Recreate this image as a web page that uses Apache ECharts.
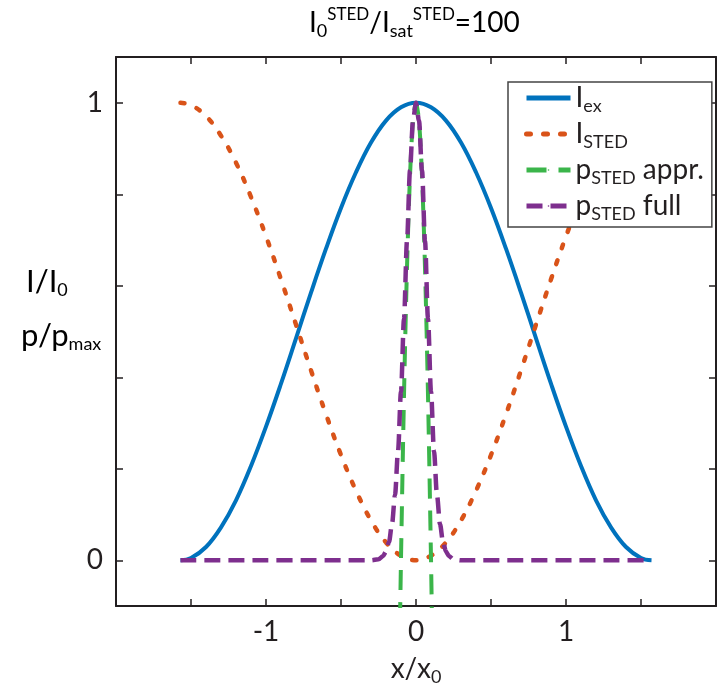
<!DOCTYPE html>
<html><head><meta charset="utf-8">
<script src="https://cdn.jsdelivr.net/npm/echarts@6/dist/echarts.min.js"></script>
<style>html,body{margin:0;padding:0;background:#fff}#c{width:721px;height:695px}</style>
</head><body><div id="c"></div>
<script>
// ---- data ----
const xWide = [-1.57,-1.5,-1.4,-1.3,-1.2,-1.1,-1.0,-0.9,-0.8,-0.7,-0.6,-0.5,-0.4,-0.3,-0.2,-0.1,0,0.1,0.2,0.3,0.4,0.5,0.6,0.7,0.8,0.9,1.0,1.1,1.2,1.3,1.4,1.5,1.57];
const iEx   = [0.000,0.005,0.029,0.072,0.131,0.206,0.292,0.386,0.485,0.585,0.681,0.770,0.848,0.913,0.961,0.990,1.000,0.990,0.961,0.913,0.848,0.770,0.681,0.585,0.485,0.386,0.292,0.206,0.131,0.072,0.029,0.005,0.000];
const iSted = [1.000,0.995,0.971,0.928,0.869,0.794,0.708,0.614,0.515,0.415,0.319,0.230,0.152,0.087,0.039,0.010,0.000,0.010,0.039,0.087,0.152,0.230,0.319,0.415,0.515,0.614,0.708,0.794,0.869,0.928,0.971,0.995,1.000];
const xFull = [-1.57,-0.3,-0.25,-0.22,-0.2,-0.18,-0.16,-0.14,-0.12,-0.1,-0.08,-0.06,-0.04,-0.02,0,0.02,0.04,0.06,0.08,0.1,0.12,0.14,0.16,0.18,0.2,0.22,0.25,0.3,1.57];
const pFull = [0,0.000,0.002,0.009,0.019,0.040,0.079,0.142,0.238,0.369,0.528,0.698,0.852,0.961,1.000,0.961,0.852,0.698,0.528,0.369,0.238,0.142,0.079,0.040,0.019,0.009,0.002,0.000,0];
const xAppr = [-0.11,-0.1,-0.08,-0.06,-0.04,-0.02,0,0.02,0.04,0.06,0.08,0.1,0.11];
const pAppr = [-0.205,0.003,0.361,0.640,0.840,0.960,1.000,0.960,0.840,0.640,0.361,0.003,-0.205];
const xLabelVals = [-1,0,1];
const yTickVals = [0,0.2,0.4,0.6,0.8,1];
const yLabelVals = [0,1];
const seriesNames = ['I_ex','I_STED','p_STED appr.','p_STED full'];

const FONT = 'Lato';
const TXT = '#231f20';
const rich = {
  m: {fontFamily: FONT, fontSize: 28, lineHeight: 34, color: TXT},
  y: {fontFamily: FONT, fontSize: 31, lineHeight: 36, color: TXT},
  b: {fontFamily: FONT, fontSize: 18, lineHeight: 10, verticalAlign: 'bottom', color: TXT},
  t: {fontFamily: FONT, fontSize: 17, lineHeight: 16, verticalAlign: 'top', color: TXT}
};
const legendText = {
  'I_ex': '{m|I}{b|ex}',
  'I_STED': '{m|I}{b|STED}',
  'p_STED appr.': '{m|p}{b|STED}{m| appr.}',
  'p_STED full': '{m|p}{b|STED}{m| full}'
};
const pairs = (xs, ys) => xs.map((x, i) => [x, ys[i]]);

const axisLine = {show: true, onZero: false, lineStyle: {color: TXT, width: 2}};
const tickStyle = {lineStyle: {color: TXT, width: 1.5}};

const chart = echarts.init(document.getElementById('c'), null, {renderer: 'canvas'});
chart.setOption({
  animation: false,
  backgroundColor: '#fff',
  grid: {left: 116, right: 5, top: 57, bottom: 89, containLabel: false},
  xAxis: [{
    type: 'value', min: -2, max: 2, interval: 0.5, position: 'bottom',
    axisLine, splitLine: {show: false},
    axisTick: {show: true, inside: true, length: 7, ...tickStyle},
    axisLabel: {show: true, interval: 0, margin: 12, fontFamily: FONT, fontSize: 28, color: TXT,
      formatter: v => xLabelVals.some(t => Math.abs(t - v) < 1e-9) ? String(Math.round(v)) : ''},
    name: '{m|x/x}{b|0}', nameLocation: 'middle', nameGap: 46,
    nameTextStyle: {rich}
  }, {
    type: 'value', min: -2, max: 2, interval: 0.5, position: 'top',
    axisLine, splitLine: {show: false},
    axisTick: {show: true, inside: true, length: 7, ...tickStyle},
    axisLabel: {show: false}
  }],
  yAxis: [{
    type: 'value', min: -0.1, max: 1.1, position: 'left',
    axisLine, splitLine: {show: false},
    axisTick: {show: true, inside: true, length: 7, customValues: yTickVals, ...tickStyle},
    axisLabel: {show: true, margin: 13, fontFamily: FONT, fontSize: 28, color: TXT, customValues: yLabelVals,
      formatter: v => String(Math.round(v))}
  }, {
    type: 'value', min: -0.1, max: 1.1, position: 'right',
    axisLine, splitLine: {show: false},
    axisTick: {show: true, inside: true, length: 7, customValues: yTickVals, ...tickStyle},
    axisLabel: {show: false}
  }],
  legend: {
    orient: 'vertical', left: 508, top: 82,
    itemWidth: 44, itemHeight: 2, itemGap: 5,
    padding: [2, 8, 4, 16],
    backgroundColor: '#fff', borderColor: '#444', borderWidth: 1.5,
    selectedMode: false,
    lineStyle: {width: 5},
    data: seriesNames,
    formatter: n => legendText[n],
    textStyle: {rich}
  },
  graphic: [
    {type: 'text', left: 309, top: 6, style: {text: '{m|I}{b|0}{t|STED}{m|/I}{b|sat}{t|STED}{m|=100}', rich}},
    {type: 'text', left: 26, top: 266, style: {text: '{y|I/I}{b|0}', rich}},
    {type: 'text', left: 21, top: 320, style: {text: '{y|p/p}{b|max}', rich}}
  ],
  series: [
    {name: seriesNames[0], type: 'line', data: pairs(xWide, iEx), smooth: 0.4, symbol: 'none',
     lineStyle: {color: '#0072BD', width: 4}, itemStyle: {color: '#0072BD'}},
    {name: seriesNames[1], type: 'line', data: pairs(xWide, iSted), smooth: 0.4, symbol: 'none',
     lineStyle: {color: '#D95319', width: 4.5, type: [4, 13], cap: 'round'}, itemStyle: {color: '#D95319'}},
    {name: seriesNames[2], type: 'line', data: pairs(xAppr, pAppr), smooth: 0.3, symbol: 'none',
     lineStyle: {color: '#3BB54A', width: 4, type: [20, 12]}, itemStyle: {color: '#3BB54A'}},
    {name: seriesNames[3], type: 'line', data: pairs(xFull, pFull), smooth: 0.3, smoothMonotone: 'x', symbol: 'none',
     lineStyle: {color: '#7E2F8E', width: 4.5, type: [16, 8]}, itemStyle: {color: '#7E2F8E'}}
  ]
});
</script>
</body></html>
